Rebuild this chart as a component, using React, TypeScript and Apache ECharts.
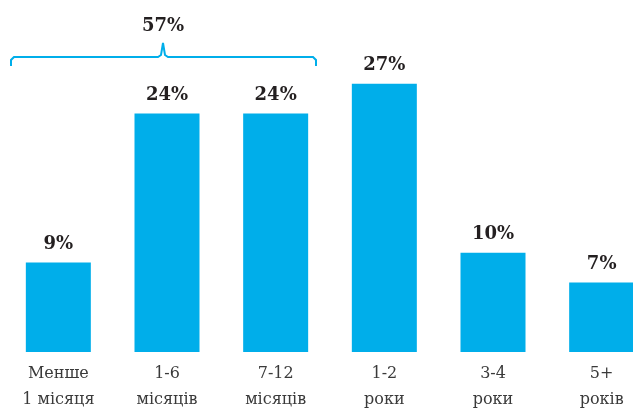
import React, { useEffect, useRef } from "react";
import * as echarts from "echarts";

const categories = ["Менше\n1 місяця", "1-6\nмісяців", "7-12\nмісяців", "1-2\nроки", "3-4\nроки", "5+\nроків"];
const values = [9, 24, 24, 27, 10, 7];
const groupLabel = "57%";

const BLUE = "#00aeea";
const SERIF = "DejaVu Serif";

export default function App() {
  const ref = useRef<HTMLDivElement>(null);
  useEffect(() => {
    const chart = echarts.init(ref.current!, null, { renderer: "svg" });
    chart.setOption({
      animation: false,
      textStyle: { fontFamily: SERIF },
      grid: { left: 4, width: 652, top: 54, height: 298, containLabel: false, outerBoundsMode: "none" },
      xAxis: {
        type: "category",
        data: categories,
        axisLine: { show: false },
        axisTick: { show: false },
        axisLabel: {
          interval: 0,
          color: "#3a3a3a",
          fontFamily: SERIF,
          fontSize: 16,
          lineHeight: 26,
          margin: 7,
        },
      },
      yAxis: {
        type: "value",
        min: 0,
        max: 30,
        show: false,
        splitLine: { show: false },
      },
      series: [
        {
          type: "bar",
          data: values,
          barWidth: 65,
          itemStyle: { color: BLUE },
          label: {
            show: true,
            position: "top",
            distance: 11,
            formatter: "{c}%",
            color: "#231f20",
            fontFamily: SERIF,
            fontWeight: "bold",
            fontSize: 18,
          },
        },
      ],
      graphic: [
        {
          type: "polyline",
          shape: {
            points: [
              [11, 66], [11, 60], [14, 57], [158, 57], [161, 55], [163, 43],
              [165, 55], [168, 57], [313, 57], [316, 60], [316, 66],
            ],
          },
          style: { stroke: BLUE, lineWidth: 2, fill: "none" },
        },
        {
          type: "text",
          x: 163,
          y: 24,
          style: {
            text: groupLabel,
            fill: "#231f20",
            fontFamily: SERIF,
            fontWeight: "bold",
            fontSize: 18,
            align: "center",
            verticalAlign: "middle",
          },
        },
      ],
    });
    return () => chart.dispose();
  }, []);
  return <div ref={ref} style={{ position: "fixed", left: 0, top: 0, width: 633, height: 410 }} />;
}
